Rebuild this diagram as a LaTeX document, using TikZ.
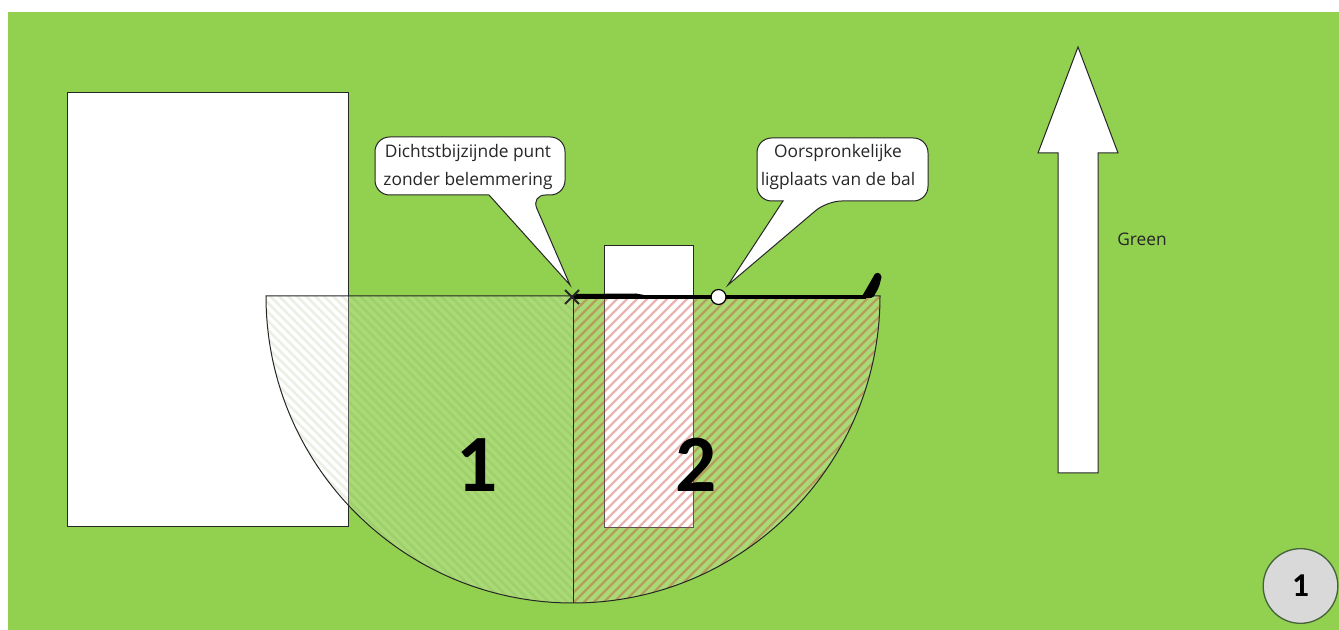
\documentclass[tikz,border=0pt]{standalone}
\usepackage{fontspec}
\setmainfont{Open Sans}
\newfontfamily\bigfont{Carlito}
\definecolor{lawn}{RGB}{146,208,80}
\definecolor{hatchred}{RGB}{205,60,50}
\definecolor{hatchpale}{RGB}{100,140,50}
\definecolor{markerline}{RGB}{70,100,60}
\definecolor{markerfill}{RGB}{217,217,217}
\begin{document}
\begin{tikzpicture}[x=0.75pt,y=-0.75pt,
  outline/.style={draw=black!85,line width=0.75pt},
  plain/.style={outline,fill=white},
  label/.style={inner sep=0pt,align=center,text=black!85,font=\fontsize{13pt}{21pt}\selectfont},
  huge/.style={inner sep=0pt,font=\bigfont\bfseries\fontsize{61pt}{61pt}\selectfont}]
\useasboundingbox (0,0) rectangle (1339,630);
\fill[white] (0,0) rectangle (1339,630);
\fill[lawn] (8,12) rectangle (1339,630);
% obstructions
\node[plain,minimum width=210.75pt,minimum height=325.5pt,inner sep=0pt] (area) at (207.5,310) {};
\node[plain,minimum width=66.75pt,minimum height=211.5pt,inner sep=0pt] (post) at (648.5,386.5) {};
% half discs
\coordinate (c) at (573,296);
\coordinate (w) at (266,296);
\coordinate (e) at (880,296);
\coordinate (s) at (573,603);
\begin{scope}
  \clip (w) arc[start angle=180,end angle=270,radius=230.25pt] -- (c) -- cycle;
  \fill[white,opacity=.22] (w) rectangle (s);
  \foreach \i in {0,9,...,990}
    \draw[hatchpale,opacity=.13,line width=2pt] (\i-400,256) -- ++(500,500);
\end{scope}
\begin{scope}
  \clip (s) arc[start angle=270,end angle=360,radius=230.25pt] -- (c) -- cycle;
  \fill[white,opacity=.22] (c) rectangle (880,603);
  \foreach \i in {0,10,...,990}
    \draw[hatchred,opacity=.38,line width=1.8pt] (\i+500,256) -- ++(-500,500);
\end{scope}
\draw[outline] (w) arc[start angle=180,end angle=360,radius=230.25pt] -- cycle;
\draw[outline] (c) -- (s);
% callouts
\draw[plain,rounded corners=11pt] (375,137) -- (565,137) -- (565,195) -- (531,195) [sharp corners] -- (570,285) -- (489,195) [rounded corners=11pt] -- (375,195) -- cycle;
\draw[plain,rounded corners=11pt] (757,138) -- (928,138) -- (928,201) -- (827,201) [sharp corners] -- (728,285) -- (783,201) [rounded corners=11pt] -- (757,201) -- cycle;
\node[label] (t1) at (468,167) {Dichtstbijzijnde punt\\zonder belemmering};
\node[label] (t2) at (838,167.5) {Oorspronkelijke\\ligplaats van de bal};
% stroke line, club, ball, cross
\coordinate (club) at (866,297);
\coordinate (cross) at (572,297);
\draw[black,line width=2.3pt] (cross) -- (club);
\fill[black] (576,294) -- (636,293.5) -- (655,297) -- (576,298.5) -- cycle;
\fill[black,rounded corners=1.5pt] (861,298) -- (868,286) -- (876,272) -- (882,275) -- (879,287) -- (873,298) -- cycle;
\draw[black!85,line width=1.5pt] (565,290) -- (579,304) (579,290) -- (565,304);
\node[circle,draw=black,fill=white,line width=0.9pt,minimum size=11.2pt,inner sep=0pt] (ball) at (718.5,297) {};
% arrow
\draw[plain,line join=miter] (1078,47) -- (1118,153) -- (1098,153) -- (1098,473) -- (1058,473) -- (1058,153) -- (1038,153) -- cycle;
\node[label] (g) at (1142,239) {Green};
% big numbers
\node[huge] (n1) at (477,465) {1};
\node[huge] (n2) at (696,465) {2};
% page marker
\node[circle,draw=markerline,fill=markerfill,line width=1pt,minimum size=56pt,inner sep=0pt,font=\bigfont\bfseries\fontsize{25pt}{25pt}\selectfont] (page) at (1300.5,586) {1};
\end{tikzpicture}
\end{document}
